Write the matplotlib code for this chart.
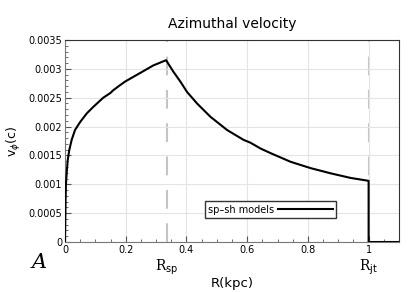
import numpy as np
import matplotlib
matplotlib.use("Agg")
import matplotlib.pyplot as plt
import matplotlib.ticker as mticker

# ── Data ─────────────────────────────────────────────────────────────────────
r_kpc = [0.0, 0.001, 0.002, 0.003, 0.0055, 0.009, 0.014, 0.022, 0.033,
         0.050, 0.072, 0.093, 0.126, 0.149, 0.159, 0.182, 0.198, 0.248,
         0.291, 0.333, 0.357, 0.380, 0.402, 0.435, 0.479, 0.534, 0.588,
         0.611, 0.644, 0.677, 0.743, 0.809, 0.875, 0.941, 1.0, 1.0, 1.10]
v_phi = [0.0, 0.00038, 0.00073, 0.00099, 0.00119, 0.00142, 0.00159, 0.00177,
         0.00194, 0.00208, 0.00223, 0.00234, 0.00250, 0.00258, 0.00263,
         0.00272, 0.00278, 0.00293, 0.00306, 0.00315, 0.00295, 0.00278,
         0.00260, 0.00240, 0.00217, 0.00194, 0.00177, 0.00172, 0.00162,
         0.00154, 0.00139, 0.00128, 0.00119, 0.00111, 0.00106, 0.0, 0.0]
R_sp = 0.335
R_jt = 1.0
x_ticks = [0, 0.2, 0.4, 0.6, 0.8, 1.0]
y_ticks = [0, 0.0005, 0.001, 0.0015, 0.002, 0.0025, 0.003, 0.0035]

plt.rcParams["font.family"] = "DejaVu Sans"

fig = plt.figure(figsize=(4.15, 2.92), dpi=100)
ax = fig.add_axes([0.1566, 0.1712, 0.8048, 0.6918])

ax.grid(True, color="#e4e4e4", linewidth=0.8, zorder=0)
for xv in (R_sp, R_jt):
    ax.axvline(xv, color="#c4c4c4", linewidth=1.5, dashes=(9, 7), zorder=1)

ax.plot(r_kpc, v_phi, color="black", linewidth=1.5, label="sp\u2013sh models",
        solid_joinstyle="round", zorder=3)

ax.set_xlim(0, 1.10)
ax.set_ylim(0, 0.0035)
ax.set_xticks(x_ticks)
ax.set_yticks(y_ticks)
ax.xaxis.set_major_formatter(mticker.FormatStrFormatter("%g"))
ax.yaxis.set_major_formatter(mticker.FormatStrFormatter("%g"))
ax.xaxis.set_minor_locator(mticker.MultipleLocator(0.05))
ax.yaxis.set_minor_locator(mticker.MultipleLocator(0.0001))
ax.tick_params(which="both", direction="in", labelsize=7, color="#555555",
               top=False, right=False, pad=2)
ax.tick_params(which="major", length=4, width=0.8)
ax.tick_params(which="minor", length=2, width=0.6)
for side in ("left", "bottom"):
    ax.spines[side].set_color("#777777")
for side in ("top", "right"):
    ax.spines[side].set_color("#333333")

ax.set_title("Azimuthal velocity", fontsize=10, pad=9)
ax.set_xlabel("R(kpc)", fontsize=9.5, labelpad=16)
ax.set_ylabel(r"v$_\phi$(c)", fontsize=9, labelpad=4)

ax.legend(loc="lower left", bbox_to_anchor=(0.419, 0.119), borderaxespad=0,
          fontsize=7, markerfirst=False, handlelength=5.6, frameon=True,
          fancybox=False, edgecolor="#333333", framealpha=1, borderpad=0.35,
          handletextpad=0.4)

ax.text(R_sp, -0.00028, r"R$_{\rm sp}$", ha="center", va="top", fontsize=10,
        family="DejaVu Serif")
ax.text(R_jt, -0.00028, r"R$_{\rm jt}$", ha="center", va="top", fontsize=10,
        family="DejaVu Serif")
fig.text(0.077, 0.1, "A", fontsize=15, style="italic", family="DejaVu Serif",
         ha="left", va="center")

fig.savefig("out.png", dpi=100)
